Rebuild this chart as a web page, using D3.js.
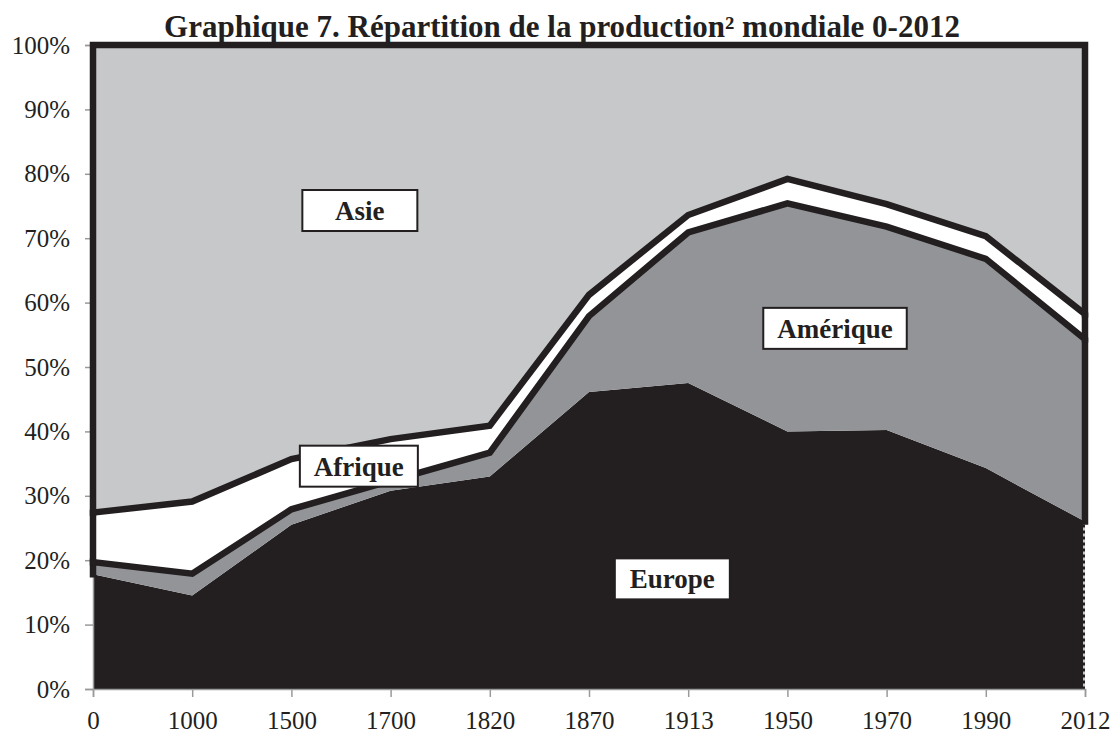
<!DOCTYPE html>
<html>
<head>
<meta charset="utf-8">
<script src="https://cdn.jsdelivr.net/npm/d3@7"></script>
<style>
  body { margin: 0; background: #fff; }
  text { font-family: "Liberation Serif", "Times New Roman", serif; fill: #231f20; }
</style>
</head>
<body>
<div id="chart"></div>
<script>
// Données (parts en % de la production mondiale)
const years = ["0", "1000", "1500", "1700", "1820", "1870", "1913", "1950", "1970", "1990", "2012"];
const europe = [17.8, 14.5, 25.5, 30.8, 33.0, 46.1, 47.5, 40.0, 40.2, 34.3, 26.0];
const amerique = [1.9, 3.4, 2.4, 1.5, 3.7, 11.8, 23.4, 35.4, 31.6, 32.5, 28.3];
const afrique = [7.7, 11.2, 7.8, 6.5, 4.2, 3.3, 2.7, 3.8, 3.5, 3.5, 3.9];
const asie = [72.6, 70.9, 64.3, 61.2, 59.1, 38.8, 26.4, 20.8, 24.7, 29.7, 41.8];
const yTicks = [0, 10, 20, 30, 40, 50, 60, 70, 80, 90, 100];

const keys = ["Europe", "Amérique", "Afrique", "Asie"];
const colors = ["#231f20", "#929497", "#ffffff", "#c7c8ca"];

// étiquettes (position en index de catégorie / valeur %)
const labels = [
  { name: "Asie", i: 2.69, v: 74.3 },
  { name: "Afrique", i: 2.68, v: 34.6 },
  { name: "Amérique", i: 7.48, v: 56.0 },
  { name: "Europe", i: 5.84, v: 17.1 },
];

const width = 1112;
const height = 733;

const rows = years.map((yr, i) => ({
  annee: yr,
  Europe: europe[i],
  "Amérique": amerique[i],
  Afrique: afrique[i],
  Asie: asie[i],
}));

const stacked = d3.stack().keys(keys)(rows);

const x = d3.scaleLinear().domain([0, years.length - 1]).range([93, 1085]);
const y = d3.scaleLinear().domain([0, 100]).range([689, 45]);

const svg = d3
  .select("#chart")
  .append("svg")
  .attr("width", width)
  .attr("height", height);

svg.append("rect").attr("width", width).attr("height", height).attr("fill", "#fff");

// Titre
svg
  .append("text")
  .attr("x", 562)
  .attr("y", 37)
  .attr("text-anchor", "middle")
  .attr("font-size", 31)
  .attr("font-weight", "bold")
  .text("Graphique 7. Répartition de la production² mondiale 0-2012");

// Aires empilées
const area = d3
  .area()
  .x((d, i) => x(i))
  .y0((d) => y(d[0]))
  .y1((d) => y(d[1]));

svg
  .selectAll("path.layer")
  .data(stacked)
  .join("path")
  .attr("class", "layer")
  .attr("fill", (d, i) => colors[i])
  .attr("d", area);

// petit bord pointillé blanc à droite de l'Europe
const last = years.length - 1;
svg
  .append("line")
  .attr("x1", x(last) - 1)
  .attr("x2", x(last) - 1)
  .attr("y1", y(stacked[0][last][1]))
  .attr("y2", y(0) - 2)
  .attr("stroke", "#fff")
  .attr("stroke-width", 1.5)
  .attr("stroke-dasharray", "3,3");

// Axes
const yAxis = svg
  .append("g")
  .attr("transform", `translate(${x(0)},0)`)
  .call(
    d3
      .axisLeft(y)
      .tickValues(yTicks)
      .tickSize(8)
      .tickPadding(15)
      .tickFormat((d) => d + "%")
  );

const xAxis = svg
  .append("g")
  .attr("transform", `translate(0,${y(0)})`)
  .call(
    d3
      .axisBottom(x)
      .tickValues(d3.range(years.length))
      .tickSize(8)
      .tickPadding(14)
      .tickFormat((i) => years[i])
  );

[yAxis, xAxis].forEach((g) => {
  g.selectAll("path, line").attr("stroke", "#9a9a9a").attr("stroke-width", 1.5);
  g.selectAll("text")
    .attr("font-size", 25)
    .attr("font-family", "'Liberation Serif', 'Times New Roman', serif")
    .attr("fill", "#231f20");
});

// Contours noirs épais (côtés + bord supérieur) pour Amérique, Afrique, Asie
const outline = d3.line();
stacked.slice(1).forEach((s) => {
  const pts = [[x(0), y(s[0][0])]]
    .concat(s.map((d, i) => [x(i), y(d[1])]))
    .concat([[x(last), y(s[last][0])]]);
  svg
    .append("path")
    .attr("d", outline(pts))
    .attr("fill", "none")
    .attr("stroke", "#231f20")
    .attr("stroke-width", 6.5)
    .attr("stroke-linejoin", "miter")
    .attr("stroke-linecap", "square");
});

// Étiquettes encadrées
labels.forEach((l) => {
  const g = svg.append("g").attr("transform", `translate(${x(l.i)},${y(l.v)})`);
  const box = g.append("rect");
  const t = g
    .append("text")
    .attr("text-anchor", "middle")
    .attr("dy", "0.35em")
    .attr("font-size", 27)
    .attr("font-weight", "bold")
    .text(l.name);
  const w = Math.max(t.node().getComputedTextLength() + 28, 115);
  const h = 41;
  box
    .attr("x", -w / 2)
    .attr("y", -h / 2)
    .attr("width", w)
    .attr("height", h)
    .attr("fill", "#fff")
    .attr("stroke", "#231f20")
    .attr("stroke-width", 2);
});
</script>
</body>
</html>
